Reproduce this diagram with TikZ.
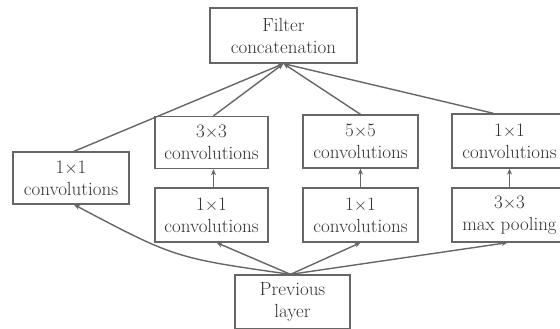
\documentclass[tikz,border=0pt]{standalone}
\usetikzlibrary{arrows.meta}
\begin{document}
\begin{tikzpicture}[x=1pt,y=-1pt,
  blk/.style={draw=black!60,line width=1.3pt,fill=white,align=center,inner sep=0pt,
    font=\fontsize{19}{22}\selectfont,text=black!80},
  conn/.style={draw=black!60,line width=1.4pt,-{Stealth[length=6pt,width=5pt]}}]
\useasboundingbox (0,0) rectangle (560,329);
\clip (0,0) rectangle (560,329);
\node[blk,minimum width=147pt,minimum height=55pt] (concat) at (283.5,35.5) {Filter\\concatenation};
\node[blk,minimum width=116pt,minimum height=52pt] (left) at (71,178) {1$\times$1\\convolutions};
\node[blk,minimum width=113pt,minimum height=52pt] (c33) at (211.5,142.5) {3$\times$3\\convolutions};
\node[blk,minimum width=113pt,minimum height=54pt] (r33) at (211.5,215) {1$\times$1\\convolutions};
\node[blk,minimum width=115pt,minimum height=53pt] (c55) at (360.5,141.5) {5$\times$5\\convolutions};
\node[blk,minimum width=115pt,minimum height=54pt] (r55) at (360.5,215) {1$\times$1\\convolutions};
\node[blk,minimum width=115pt,minimum height=54pt] (c11) at (509.5,141) {1$\times$1\\convolutions};
\node[blk,minimum width=115pt,minimum height=54pt] (pool) at (509.5,215) {3$\times$3\\max pooling};
\node[blk,minimum width=115pt,minimum height=54pt] (prev) at (292.5,302) {Previous\\layer};
% top layer
\draw[conn] ([xshift=3pt]left.north) -- (concat.south);
\draw[conn] ([xshift=2pt]c33.north) -- (concat.south);
\draw[conn] (c55.north) -- (concat.south);
\draw[conn] ([xshift=-16pt]c11.north) -- (concat.south);
% vertical
\draw[conn] ([xshift=2pt]r33.north) -- ([xshift=2pt]c33.south);
\draw[conn] (r55.north) -- (c55.south);
\draw[conn] (pool.north) -- (c11.south);
% bottom
\draw[conn] ([xshift=-2pt]prev.north) .. controls (175,258) .. ([xshift=3pt]left.south);
\draw[conn] ([xshift=-2pt]prev.north) -- ([xshift=5pt]r33.south);
\draw[conn] ([xshift=-2pt]prev.north) -- (r55.south);
\draw[conn] ([xshift=-2pt]prev.north) -- ([xshift=-2pt]pool.south);
\end{tikzpicture}
\end{document}
